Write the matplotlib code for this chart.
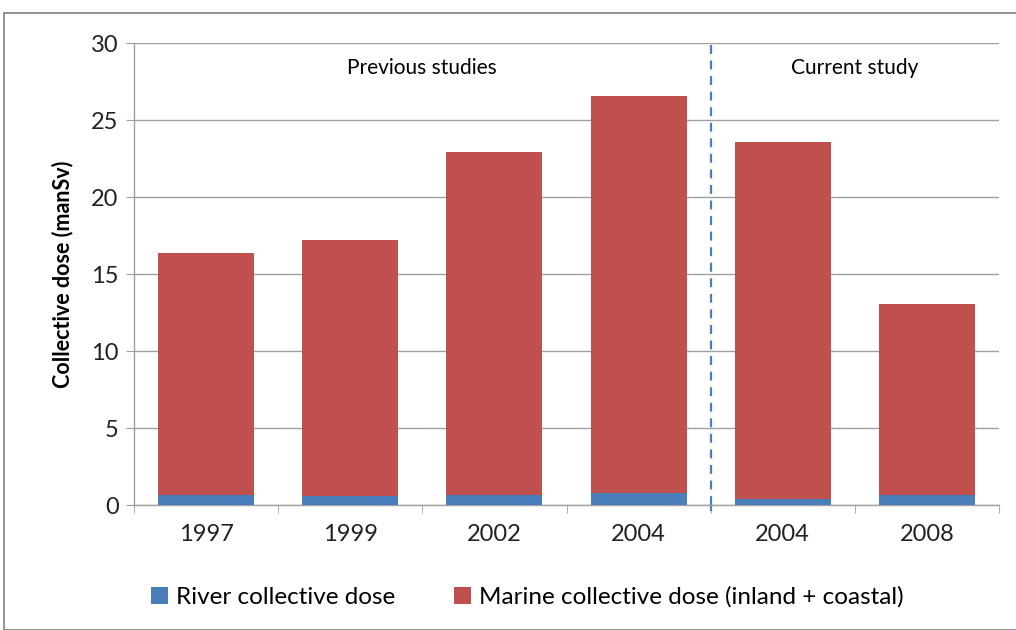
import numpy as np
import matplotlib.pyplot as plt
from matplotlib.patches import Rectangle

plt.rcParams['font.family'] = ['Lato', 'DejaVu Sans']

# collective dose per study year (manSv)
years = ['1997', '1999', '2002', '2004', '2004', '2008']
river = [0.62, 0.60, 0.68, 0.75, 0.41, 0.65]
total = [16.35, 17.2, 22.9, 26.55, 23.55, 13.05]
marine = [t - r for t, r in zip(total, river)]

blue = '#4a7ebb'
red = '#c0504d'
grid_col = '#a0a0a0'

fig = plt.figure(figsize=(10.16, 6.3), dpi=100)
ax = fig.add_axes([134/1016, 1 - 505/630, 865/1016, 462/630])

x = np.arange(len(years))
w = 0.665
ax.bar(x, river, w, color=blue, label='River collective dose', zorder=3)
ax.bar(x, marine, w, bottom=river, color=red,
       label='Marine collective dose (inland + coastal)', zorder=3)

ax.set_xlim(-0.5, len(years) - 0.5)
ax.set_ylim(0, 30)
ax.set_yticks(range(0, 31, 5))
ax.yaxis.grid(True, color=grid_col, linewidth=1, zorder=0)
ax.set_axisbelow(True)

for s in ['top', 'right']:
    ax.spines[s].set_visible(False)
for s in ['left', 'bottom']:
    ax.spines[s].set_color(grid_col)
    ax.spines[s].set_linewidth(1)

ax.set_xticks(x)
ax.set_xticklabels(years)
ax.set_xticks(np.arange(-0.5, len(years), 1), minor=True)
ax.tick_params(axis='x', which='major', length=0, pad=14, labelsize=17, colors='#222222')
ax.tick_params(axis='x', which='minor', length=6, color=grid_col)
ax.tick_params(axis='y', length=6, color=grid_col, labelsize=17, pad=5, colors='#222222')
ax.set_ylabel('Collective dose (manSv)', fontsize=15.5, fontweight='bold', labelpad=13)

# separator between earlier studies and this one
ax.axvline(3.5, color=blue, linestyle=(0, (4, 3)), linewidth=1.6, ymax=1.0,
           clip_on=False, zorder=4)
ax.plot([3.5, 3.5], [0, -0.3], color=blue, linewidth=1.6, clip_on=False)

ax.text(1.5, 28.4, 'Previous studies', ha='center', va='center', fontsize=15)
ax.text(4.5, 28.4, 'Current study', ha='center', va='center', fontsize=15)

fig.legend(loc='center', bbox_to_anchor=(0.519, 1 - 597/630), ncol=2, frameon=False,
           fontsize=17.5, handlelength=0.7, handleheight=0.7, handletextpad=0.3,
           columnspacing=2.45)

# outer chart frame
fig.patches.append(Rectangle((4/1016, 0), 1.2, 1 - 13/630, transform=fig.transFigure,
                             fill=False, edgecolor='#808080', linewidth=1.2))

fig.savefig('out.png', dpi=100)
